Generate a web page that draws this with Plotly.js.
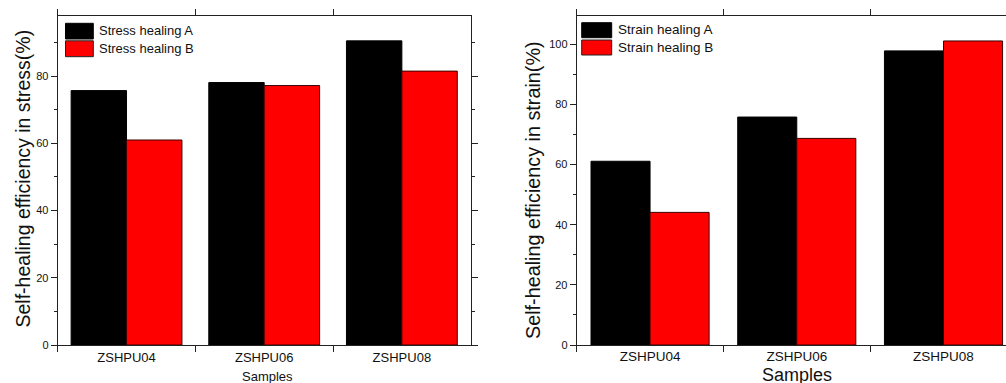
<!DOCTYPE html>
<html>
<head>
<meta charset="utf-8">
<script src="https://cdn.plot.ly/plotly-3.0.1.min.js"></script>
<style>html,body{margin:0;padding:0;background:#fff;}#chart{width:1006px;height:383px;}</style>
</head>
<body>
<div id="chart"></div>
<script>
// ---- data ----
const categories = ['ZSHPU04', 'ZSHPU06', 'ZSHPU08'];
const stressNames = ['Stress healing A', 'Stress healing B'];
const strainNames = ['Strain healing A', 'Strain healing B'];
const stressA = [75.7, 78.1, 90.5];
const stressB = [61.0, 77.2, 81.5];
const strainA = [61.1, 75.8, 97.8];
const strainB = [44.1, 68.7, 101.1];
const yTitleLeft = 'Self-healing efficiency in stress(%)';
const yTitleRight = 'Self-healing efficiency in strain(%)';
const xTitle = 'Samples';

// ---- helpers (pixel -> paper) ----
const W = 1006, H = 383;
const px = v => v / W;
const py = v => 1 - v / H;
const FONT = 'Liberation Sans, Arial, sans-serif';
const BLACK = '#000000', RED = '#ff0000';

function bar(x, y, name, color, lineColor, xa, ya) {
  return {type: 'bar', x: x, y: y, name: name, xaxis: xa, yaxis: ya, showlegend: false,
    marker: {color: color, line: {color: lineColor, width: 1}}, hoverinfo: 'x+y+name'};
}

const data = [
  bar(categories, stressA, stressNames[0], BLACK, '#000', 'x', 'y'),
  bar(categories, stressB, stressNames[1], RED, '#3a0000', 'x', 'y'),
  bar(categories, strainA, strainNames[0], BLACK, '#000', 'x2', 'y2'),
  bar(categories, strainB, strainNames[1], RED, '#3a0000', 'x2', 'y2')
];

const yTop = 16, yBot = 345;
const axisCommon = {showgrid: false, zeroline: false, showline: true, linecolor: '#222', linewidth: 1,
  ticks: 'outside', tickcolor: '#222', tickwidth: 1, fixedrange: true};

const layout = {
  width: W, height: H,
  margin: {l: 0, r: 0, t: 0, b: 0},
  paper_bgcolor: '#fff', plot_bgcolor: '#fff',
  barmode: 'group', bargap: 0.195, bargroupgap: 0,
  font: {family: FONT, color: '#111'},
  xaxis: Object.assign({}, axisCommon, {
    domain: [px(57.7), px(470.7)], anchor: 'y', type: 'category',
    range: [-0.5, 2.5], tickson: 'boundaries', ticklen: 6, mirror: 'ticks',
    tickfont: {size: 13, family: FONT, color: '#111'}
  }),
  yaxis: Object.assign({}, axisCommon, {
    domain: [py(yBot), py(yTop)], anchor: 'x', range: [0, 97.9],
    dtick: 20, tick0: 0, ticklen: 6, mirror: 'ticks',
    minor: {dtick: 10, ticklen: 3, ticks: 'outside', tickcolor: '#222'},
    tickfont: {size: 11, family: FONT, color: '#111'}
  }),
  xaxis2: Object.assign({}, axisCommon, {
    domain: [px(576.7), 1], anchor: 'y2', type: 'category',
    range: [-0.5, 2.426], tickson: 'boundaries', ticklen: 6, mirror: 'ticks',
    ticklabelstandoff: -1,
    tickfont: {size: 13.5, family: FONT, color: '#111'}
  }),
  yaxis2: Object.assign({}, axisCommon, {
    domain: [py(yBot), py(yTop)], anchor: 'x2', range: [0, 109.4],
    dtick: 20, tick0: 0, ticklen: 6, mirror: false,
    minor: {dtick: 10, ticklen: 3, ticks: 'outside', tickcolor: '#222'},
    tickfont: {size: 11, family: FONT, color: '#111'}
  }),
  shapes: [
    // legend swatches (left)
    {type: 'rect', xref: 'paper', yref: 'paper', x0: px(65.5), x1: px(93.3), y0: py(39), y1: py(23.3),
      fillcolor: BLACK, line: {color: '#000', width: 1}},
    {type: 'rect', xref: 'paper', yref: 'paper', x0: px(65.5), x1: px(93.3), y0: py(56.7), y1: py(40.8),
      fillcolor: RED, line: {color: '#222', width: 1}},
    // legend swatches (right)
    {type: 'rect', xref: 'paper', yref: 'paper', x0: px(581.7), x1: px(611.7), y0: py(37.7), y1: py(22.7),
      fillcolor: BLACK, line: {color: '#000', width: 1}},
    {type: 'rect', xref: 'paper', yref: 'paper', x0: px(581.7), x1: px(611.7), y0: py(55), y1: py(40),
      fillcolor: RED, line: {color: '#222', width: 1}}
  ],
  annotations: [
    {text: stressNames[0], xref: 'paper', yref: 'paper', x: px(97), y: py(30.7), xanchor: 'left', yanchor: 'middle',
      showarrow: false, font: {size: 13, family: FONT, color: '#111'}},
    {text: stressNames[1], xref: 'paper', yref: 'paper', x: px(97), y: py(48.7), xanchor: 'left', yanchor: 'middle',
      showarrow: false, font: {size: 13, family: FONT, color: '#111'}},
    {text: strainNames[0], xref: 'paper', yref: 'paper', x: px(616), y: py(30), xanchor: 'left', yanchor: 'middle',
      showarrow: false, font: {size: 13.5, family: FONT, color: '#111'}},
    {text: strainNames[1], xref: 'paper', yref: 'paper', x: px(616), y: py(47.7), xanchor: 'left', yanchor: 'middle',
      showarrow: false, font: {size: 13.5, family: FONT, color: '#111'}},
    // axis titles
    {text: yTitleLeft, xref: 'paper', yref: 'paper', x: px(23), y: py(178.5), textangle: -90,
      xanchor: 'center', yanchor: 'middle', showarrow: false, font: {size: 19.5, family: FONT, color: '#111'}},
    {text: yTitleRight, xref: 'paper', yref: 'paper', x: px(533), y: py(190), textangle: -90,
      xanchor: 'center', yanchor: 'middle', showarrow: false, font: {size: 19.8, family: FONT, color: '#111'}},
    {text: xTitle, xref: 'paper', yref: 'paper', x: px(267), y: py(376), xanchor: 'center', yanchor: 'middle',
      showarrow: false, font: {size: 13, family: FONT, color: '#111'}},
    {text: xTitle, xref: 'paper', yref: 'paper', x: px(797), y: py(374.5), xanchor: 'center', yanchor: 'middle',
      showarrow: false, font: {size: 18, family: FONT, color: '#111'}}
  ]
};

Plotly.newPlot('chart', data, layout, {displayModeBar: false, staticPlot: true});
</script>
</body>
</html>
